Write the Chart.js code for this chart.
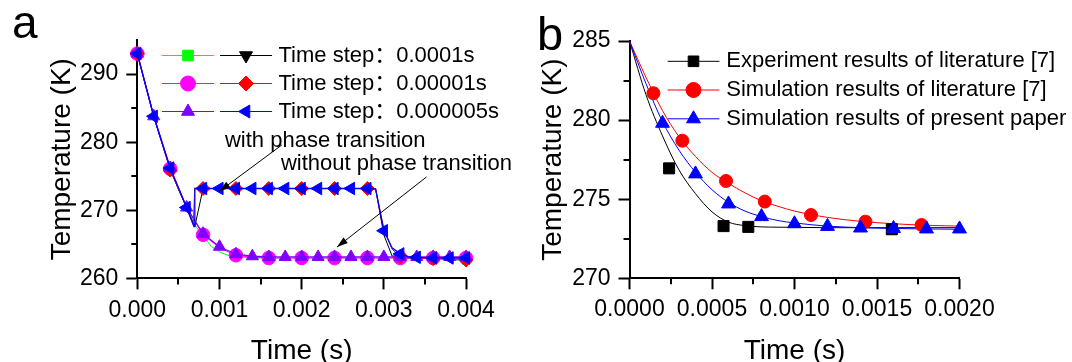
<!DOCTYPE html>
<html>
<head>
<meta charset="utf-8">
<script src="https://cdn.jsdelivr.net/npm/chart.js@4.4.1/dist/chart.umd.min.js"></script>
<style>
  html, body { margin:0; padding:0; background:#fff; }
  #wrap { position:relative; width:1072px; height:362px; overflow:hidden; background:#fff; }
  canvas { position:absolute; top:0; }
  #chartA { left:0; }
  #chartB { left:500px; }
</style>
</head>
<body>
<div id="wrap">
  <canvas id="chartA" width="530" height="362"></canvas>
  <canvas id="chartB" width="572" height="362"></canvas>
</div>
<script>
const FONT = '"Liberation Sans", Arial, "Noto Sans CJK SC", sans-serif';

// ================= Panel a data =================
const aXTicks = [0, 0.001, 0.002, 0.003, 0.004];
const aXMinor = [0.0005, 0.0015, 0.0025, 0.0035];
const aYTicks = [260, 270, 280, 290];
const aYMinor = [265, 275, 285];
const aLegendLabels = ['Time step：0.0001s', 'Time step：0.00001s', 'Time step：0.000005s'];
const aNotes = ['with phase transition', 'without phase transition'];

// time step 0.0001 s, without phase transition (green)
const tGreen = [0,0.0001,0.0002,0.0003,0.0004,0.0005,0.0006,0.0007,0.0008,0.0009,0.0010,0.0011,0.0012,0.0013,0.0014,0.0016,0.0020,0.0024,0.0028,0.0032,0.0036,0.0040];
const kGreen = [293.0,288.4,283.8,279.9,276.1,273.1,270.4,267.8,266.3,264.7,263.9,263.4,263.2,263.1,263.0,263.0,263.0,263.0,263.0,263.0,262.9,262.6];
// time step 0.0001 s, with phase transition (black)
const tBlack = [0,0.0001,0.0002,0.0003,0.0004,0.0005,0.0006,0.0007,0.0008,0.0010,0.0012,0.0014,0.0016,0.0018,0.0020,0.0022,0.0024,0.0026,0.0028,0.0029,0.0030,0.0031,0.0032,0.0034,0.0036,0.0038,0.0040];
const kBlack = [293.0,288.4,283.8,279.9,276.1,273.1,270.4,267.6,273.2,273.2,273.2,273.2,273.2,273.2,273.2,273.2,273.2,273.2,273.2,273.2,266.4,263.3,263.0,263.0,263.0,263.0,263.0];
// time step 0.00001 s, without phase transition (magenta)
const tMagenta = [0,0.0002,0.0004,0.0006,0.0008,0.0010,0.0012,0.0014,0.0016,0.0020,0.0024,0.0028,0.0032,0.0036,0.0040];
const kMagenta = [293.0,283.8,276.1,270.4,266.4,264.5,263.4,263.1,263.0,263.0,263.0,263.0,263.0,263.0,263.0];
// time step 0.00001 s, with phase transition (red)
const tRed = [0,0.0002,0.0004,0.0006,0.00068,0.0007,0.0008,0.0012,0.0016,0.0020,0.0024,0.0028,0.0029,0.0030,0.0031,0.0032,0.0034,0.0036,0.0040];
const kRed = [293.0,283.8,275.9,270.4,267.9,273.2,273.2,273.2,273.2,273.2,273.2,273.2,273.1,267.3,264.3,263.2,263.0,262.9,262.7];
// time step 0.000005 s, without phase transition (violet)
const tViolet = [0,0.0002,0.0004,0.0006,0.0008,0.0010,0.0012,0.0014,0.0016,0.0018,0.0020,0.0022,0.0024,0.0026,0.0028,0.0030,0.0032,0.0034,0.0036,0.0038,0.0040];
const kViolet = [293.0,283.8,276.2,270.4,266.55,264.65,263.55,263.25,263.15,263.15,263.15,263.15,263.15,263.15,263.15,263.15,263.15,263.15,263.15,263.15,263.15];
// time step 0.000005 s, with phase transition (blue)
const tBlue = [0,0.0002,0.0004,0.0006,0.00069,0.0007,0.0008,0.0010,0.0012,0.0014,0.0016,0.0018,0.0020,0.0022,0.0024,0.0026,0.0028,0.0029,0.0030,0.0031,0.0032,0.0033,0.0034,0.0036,0.0038,0.0040];
const kBlue = [293.0,283.8,276.2,270.4,267.6,273.2,273.2,273.2,273.2,273.2,273.2,273.2,273.2,273.2,273.2,273.2,273.2,273.1,267.0,264.5,263.6,263.2,263.1,263.0,263.0,263.0];

// annotation anchors (data units): [time, temperature]
const aNoteAt = [[0.001067, 279.3], [0.001748, 275.95]];
const aArrowFrom = [[0.00176, 279.6], [0.00352, 274.9]];
const aArrowTo = [[0.00100, 272.8], [0.00243, 264.6]];

// ================= Panel b data =================
const bXTicks = [0, 0.0005, 0.0010, 0.0015, 0.0020];
const bXMinor = [0.00025, 0.00075, 0.00125, 0.00175];
const bYTicks = [270, 275, 280, 285];
const bYMinor = [272.5, 277.5, 282.5];
const bLegendLabels = ['Experiment results of literature [7]', 'Simulation results of literature [7]', 'Simulation results of present paper'];

const tExp = [0.00024, 0.00057, 0.00072, 0.00159];
const kExp = [276.95, 273.3, 273.25, 273.1];
const tLitSim = [0.000145, 0.00032, 0.000585, 0.00082, 0.0011, 0.00143, 0.00177];
const kLitSim = [281.7, 278.7, 276.15, 274.85, 274.0, 273.58, 273.37];
const tPresent = [0.0002,0.0004,0.0006,0.0008,0.0010,0.0012,0.0014,0.0016,0.0018,0.0020];
const kPresent = [279.8, 276.6, 274.7, 273.9, 273.45, 273.28, 273.18, 273.15, 273.12, 273.12];

const tCurve = [0,0.0001,0.0002,0.0003,0.0004,0.0005,0.0006,0.0007,0.0008,0.0009,0.0010,0.0012,0.0014,0.0016,0.0018,0.0020];
const kExpCurve = [285,281.6,279.0,276.85,275.35,274.2,273.55,273.33,273.25,273.23,273.22,273.2,273.2,273.2,273.2,273.2];
const kLitCurve = [285,282.7,280.6,278.95,277.7,276.7,276.0,275.4,274.9,274.55,274.25,273.85,273.6,273.45,273.35,273.3];
const kPresCurve = [285,282.3,279.9,278.1,276.7,275.6,274.8,274.25,273.9,273.65,273.5,273.3,273.2,273.15,273.12,273.1];

// ================= helpers =================
const pts = (t, k) => t.map((v, i) => ({x: v, y: k[i]}));
function every(step, r) {
  return c => {
    if (!c.raw) return 0;
    const q = c.raw.x / step;
    return Math.abs(q - Math.round(q)) < 1e-6 ? r : 0;
  };
}
function drawMarker(ctx, style, x, y, r, rot, color) {
  ctx.save();
  ctx.translate(x, y);
  ctx.rotate((rot || 0) * Math.PI / 180);
  ctx.fillStyle = color; ctx.strokeStyle = color; ctx.lineWidth = 1;
  ctx.beginPath();
  if (style === 'circle') ctx.arc(0, 0, r, 0, Math.PI * 2);
  else if (style === 'rect') { const s = r * Math.SQRT1_2; ctx.rect(-s, -s, 2 * s, 2 * s); }
  else if (style === 'rectRot') { ctx.moveTo(-r, 0); ctx.lineTo(0, -r); ctx.lineTo(r, 0); ctx.lineTo(0, r); ctx.closePath(); }
  else if (style === 'triangle') {
    for (let k = 0; k < 3; k++) {
      const a = k * 2 * Math.PI / 3;
      const px = Math.sin(a) * r, py = -Math.cos(a) * r;
      if (k) ctx.lineTo(px, py); else ctx.moveTo(px, py);
    }
    ctx.closePath();
  }
  ctx.fill(); ctx.stroke();
  ctx.restore();
}
function drawArrow(ctx, x1, y1, x2, y2) {
  ctx.save();
  ctx.strokeStyle = '#000'; ctx.fillStyle = '#000'; ctx.lineWidth = 1;
  ctx.beginPath(); ctx.moveTo(x1, y1); ctx.lineTo(x2, y2); ctx.stroke();
  const ang = Math.atan2(y2 - y1, x2 - x1), L = 11, W = 3.5;
  ctx.beginPath(); ctx.moveTo(x2, y2);
  ctx.lineTo(x2 - L * Math.cos(ang) + W * Math.sin(ang), y2 - L * Math.sin(ang) - W * Math.cos(ang));
  ctx.lineTo(x2 - L * Math.cos(ang) - W * Math.sin(ang), y2 - L * Math.sin(ang) + W * Math.cos(ang));
  ctx.closePath(); ctx.fill();
  ctx.restore();
}

const minorTicks = {
  id: 'minorTicks',
  afterDraw(chart, args, opts) {
    const ctx = chart.ctx, ca = chart.chartArea, sx = chart.scales.x, sy = chart.scales.y;
    ctx.save(); ctx.strokeStyle = '#000'; ctx.lineWidth = 2;
    opts.x.forEach(v => { const p = Math.round(sx.getPixelForValue(v)); ctx.beginPath(); ctx.moveTo(p, ca.bottom); ctx.lineTo(p, ca.bottom + opts.len); ctx.stroke(); });
    opts.y.forEach(v => { const p = Math.round(sy.getPixelForValue(v)); ctx.beginPath(); ctx.moveTo(ca.left, p); ctx.lineTo(ca.left - opts.len, p); ctx.stroke(); });
    ctx.restore();
  }
};

function axisX(ticks, digits, titleText, height) {
  return {
    type: 'linear', position: 'bottom', min: ticks[0], max: ticks[ticks.length - 1],
    afterBuildTicks: s => { s.ticks = ticks.map(v => ({value: v})); },
    afterFit: s => { s.height = height; },
    ticks: { color: '#000', font: {family: FONT, size: 23}, padding: 7, maxRotation: 0, autoSkip: false,
             callback: v => Number(v).toFixed(digits) },
    grid: { drawOnChartArea: false, drawTicks: true, tickLength: 11, tickColor: '#000', tickWidth: 2 },
    border: { display: true, color: '#000', width: 2 },
    title: { display: true, text: titleText, color: '#000', font: {family: FONT, size: 28, lineHeight: 1}, padding: {top: 0, bottom: -3} }
  };
}
function axisY(ticks, min, max, titleText, width, titlePad) {
  return {
    type: 'linear', position: 'left', min: min, max: max,
    afterBuildTicks: s => { s.ticks = ticks.map(v => ({value: v})); },
    afterFit: s => { s.width = width; },
    ticks: { color: '#000', font: {family: FONT, size: 23}, padding: 8, autoSkip: false,
             callback: v => String(v) },
    grid: { drawOnChartArea: false, drawTicks: true, tickLength: 11, tickColor: '#000', tickWidth: 2 },
    border: { display: true, color: '#000', width: 2 },
    title: { display: true, text: titleText, color: '#000', font: {family: FONT, size: 28, lineHeight: 1}, padding: {top: titlePad, bottom: 0} }
  };
}
function series(t, k, color, style, rot, r, step, lw) {
  return {
    data: pts(t, k), showLine: true, borderColor: color, borderWidth: lw, tension: 0,
    pointStyle: style, pointRotation: rot, pointRadius: every(step, r), pointHoverRadius: 0,
    pointBackgroundColor: color, pointBorderColor: color, pointBorderWidth: 1, clip: false,
    _legend: {style: style, rot: rot, color: color}
  };
}

// ================= Chart a =================
const aBlue = series(tBlue, kBlue, '#0000ff', 'triangle', -90, 7.2, 0.0002, 1.3);
const aViolet = series(tViolet, kViolet, '#8000ff', 'triangle', 0, 7, 0.0002, 1.3);
const aRed = series(tRed, kRed, '#ff0000', 'rectRot', 0, 7, 0.0004, 1);
const aMagenta = series(tMagenta, kMagenta, '#ff00ff', 'circle', 0, 6.8, 0.0004, 1);
const aBlack = series(tBlack, kBlack, '#000000', 'triangle', 180, 5, 0.0004, 1);
const aGreen = series(tGreen, kGreen, '#00ff00', 'rect', 0, 5, 0.0004, 1);

const decorA = {
  id: 'decorA',
  afterDraw(chart) {
    const ctx = chart.ctx, sx = chart.scales.x, sy = chart.scales.y;
    ctx.save();
    ctx.fillStyle = '#000';
    ctx.font = '46px ' + FONT; ctx.textBaseline = 'alphabetic'; ctx.textAlign = 'left';
    ctx.fillText('a', 12, 37.5);
    // legend
    const rows = [[aGreen, aBlack], [aMagenta, aRed], [aViolet, aBlue]];
    const rowY = [55.5, 83.5, 111.5];
    const sampleX = [[162, 214], [220, 272]];
    rows.forEach((pair, i) => {
      pair.forEach((ds, j) => {
        const y = rowY[i], [x1, x2] = sampleX[j];
        ctx.strokeStyle = ds.borderColor; ctx.lineWidth = 1;
        ctx.beginPath(); ctx.moveTo(x1, y); ctx.lineTo(x2, y); ctx.stroke();
        drawMarker(ctx, ds._legend.style, (x1 + x2) / 2, y, 7.5, ds._legend.rot, ds._legend.color);
      });
      ctx.fillStyle = '#000'; ctx.font = '22px ' + FONT; ctx.textBaseline = 'middle'; ctx.textAlign = 'left';
      ctx.fillText(aLegendLabels[i], 278.5, rowY[i]);
    });
    // notes and arrows
    ctx.font = '22px ' + FONT; ctx.textBaseline = 'alphabetic'; ctx.textAlign = 'left'; ctx.fillStyle = '#000';
    aNotes.forEach((txt, i) => {
      ctx.fillText(txt, sx.getPixelForValue(aNoteAt[i][0]), sy.getPixelForValue(aNoteAt[i][1]));
      drawArrow(ctx, sx.getPixelForValue(aArrowFrom[i][0]), sy.getPixelForValue(aArrowFrom[i][1]),
                     sx.getPixelForValue(aArrowTo[i][0]), sy.getPixelForValue(aArrowTo[i][1]));
    });
    ctx.restore();
  }
};

new Chart(document.getElementById('chartA'), {
  type: 'scatter',
  data: { datasets: [aBlue, aViolet, aRed, aMagenta, aBlack, aGreen] },
  options: {
    responsive: false, animation: false, events: [], devicePixelRatio: 1,
    layout: { padding: {left: 0, right: 64, top: 40, bottom: 0}, autoPadding: false },
    plugins: { legend: {display: false}, tooltip: {enabled: false},
               minorTicks: {x: aXMinor, y: aYMinor, len: 6} },
    scales: {
      x: axisX(aXTicks, 3, 'Time (s)', 83.6),
      y: axisY(aYTicks, 260, 295, 'Temperature (K)', 137.3, 48)
    }
  },
  plugins: [minorTicks, decorA]
});

// ================= Chart b =================
const bPresMarks = {data: pts(tPresent, kPresent), showLine: false, pointStyle: 'triangle', pointRadius: 8, pointHoverRadius: 0,
  pointBackgroundColor: '#0000ff', pointBorderColor: '#0000ff', pointBorderWidth: 1, clip: false};
const bLitMarks = {data: pts(tLitSim, kLitSim), showLine: false, pointStyle: 'circle', pointRadius: 6.5, pointHoverRadius: 0,
  pointBackgroundColor: '#ff0000', pointBorderColor: '#ff0000', pointBorderWidth: 1, clip: false};
const bExpMarks = {data: pts(tExp, kExp), showLine: false, pointStyle: 'rect', pointRadius: 7.8, pointHoverRadius: 0,
  pointBackgroundColor: '#000000', pointBorderColor: '#000000', pointBorderWidth: 1, clip: false};
const curve = (k, color) => ({data: pts(tCurve, k), showLine: true, borderColor: color, borderWidth: 1,
  cubicInterpolationMode: 'monotone', pointRadius: 0, pointHoverRadius: 0, clip: false});

const decorB = {
  id: 'decorB',
  afterDraw(chart) {
    const ctx = chart.ctx;
    ctx.save();
    ctx.fillStyle = '#000';
    ctx.font = '47px ' + FONT; ctx.textBaseline = 'alphabetic'; ctx.textAlign = 'left';
    ctx.fillText('b', 37, 49.5);
    const items = [['#000000', 'rect', 0], ['#ff0000', 'circle', 0], ['#0000ff', 'triangle', 0]];
    const rowY = [61.3, 90.0, 118.8];
    items.forEach((it, i) => {
      const y = rowY[i];
      ctx.strokeStyle = it[0]; ctx.lineWidth = 1;
      ctx.beginPath(); ctx.moveTo(167.7, y); ctx.lineTo(219.4, y); ctx.stroke();
      drawMarker(ctx, it[1], 193.5, y, it[1] === 'triangle' ? 8 : 7.5, it[2], it[0]);
      ctx.fillStyle = '#000'; ctx.font = '22px ' + FONT; ctx.textBaseline = 'middle'; ctx.textAlign = 'left';
      ctx.fillText(bLegendLabels[i], 226.3, y);
    });
    ctx.restore();
  }
};

new Chart(document.getElementById('chartB'), {
  type: 'scatter',
  data: { datasets: [bPresMarks, bLitMarks, bExpMarks,
                     curve(kPresCurve, '#0000ff'), curve(kLitCurve, '#ff0000'), curve(kExpCurve, '#000000')] },
  options: {
    responsive: false, animation: false, events: [], devicePixelRatio: 1,
    layout: { padding: {left: 0, right: 112.5, top: 41, bottom: 0}, autoPadding: false },
    plugins: { legend: {display: false}, tooltip: {enabled: false},
               minorTicks: {x: bXMinor, y: bYMinor, len: 6} },
    scales: {
      x: axisX(bXTicks, 4, 'Time (s)', 83.7),
      y: axisY(bYTicks, 270, 285, 'Temperature (K)', 129.5, 39)
    }
  },
  plugins: [minorTicks, decorB]
});
</script>
</body>
</html>
